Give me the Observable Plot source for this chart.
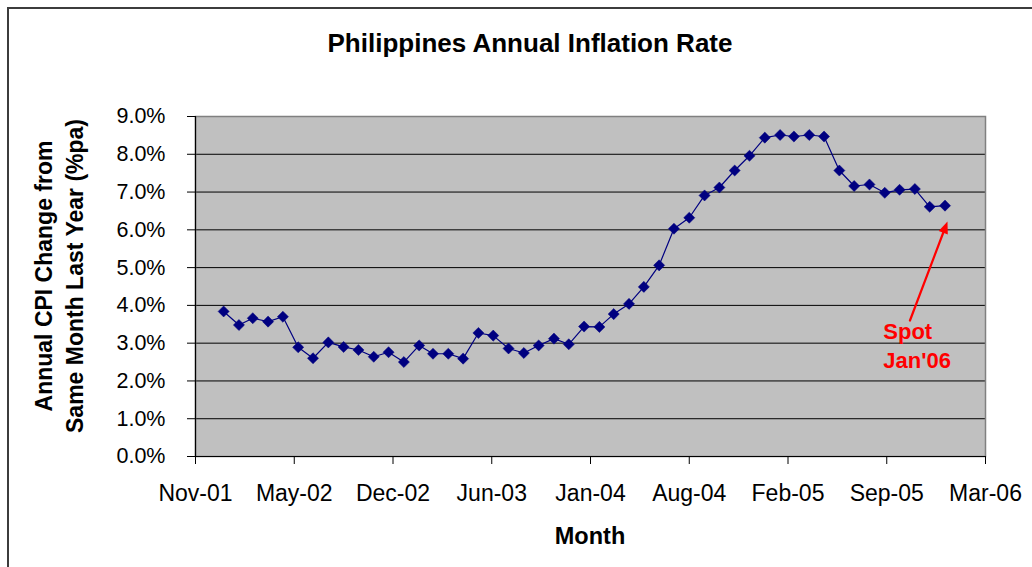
<!DOCTYPE html>
<html>
<head>
<meta charset="utf-8">
<script src="https://cdn.jsdelivr.net/npm/d3@7"></script>
<script src="https://cdn.jsdelivr.net/npm/@observablehq/plot@0.6"></script>
<style>
  html, body { margin: 0; padding: 0; background: #fff; overflow: hidden; }
  #wrap { position: relative; width: 1032px; height: 567px; overflow: hidden; font-family: "Liberation Sans", Arial, sans-serif; }
  #border { position: absolute; left: 7px; top: 7px; width: 1200px; height: 800px; border: 2px solid #3c3c3c; box-sizing: border-box; pointer-events: none; }
  #title { position: absolute; left: 230px; width: 600px; top: 30px; text-align: center; font-size: 26px; line-height: 26px; font-weight: bold; color: #000; }
  #ytitle { position: absolute; left: -150px; top: 245px; width: 420px; height: 62px; text-align: center; font-size: 23px; line-height: 31px; font-weight: bold; transform: rotate(-90deg); transform-origin: 50% 50%; color: #000; white-space: nowrap; }
  #xtitle { position: absolute; left: 490px; width: 200px; top: 525px; text-align: center; font-size: 23.5px; line-height: 23px; font-weight: bold; color: #000; }
  #chart { position: absolute; left: 0; top: 0; }
</style>
</head>
<body>
<div id="wrap">
  <div id="chart"></div>
  <div id="border"></div>
  <div id="title">Philippines Annual Inflation Rate</div>
  <div id="ytitle">Annual CPI Change from<br>Same Month Last Year (%pa)</div>
  <div id="xtitle">Month</div>
</div>
<script>
// ---- data (monthly, % change on same month last year) ----
const firstMonth = "2002-01-01";
const infl2002 = [3.84, 3.48, 3.66, 3.57, 3.70, 2.89, 2.60, 3.02, 2.90, 2.82, 2.64, 2.76];
const infl2003 = [2.50, 2.94, 2.72, 2.72, 2.59, 3.27, 3.20, 2.86, 2.74, 2.94, 3.12, 2.97];
const infl2004 = [3.44, 3.43, 3.77, 4.04, 4.49, 5.06, 6.03, 6.32, 6.91, 7.12, 7.57, 7.96];
const infl2005 = [8.44, 8.51, 8.47, 8.51, 8.47, 7.57, 7.16, 7.20, 6.98, 7.06, 7.08, 6.61];
const infl2006 = [6.64];

// x axis: Excel date axis, min 5-Nov-2001, major unit 200 days
const xAxisStart = "2001-11-05";
const xMajorUnitDays = 200;
const xTickLabels = ["Nov-01", "May-02", "Dec-02", "Jun-03", "Jan-04", "Aug-04", "Feb-05", "Sep-05", "Mar-06"];
const yTicks = [0, 1, 2, 3, 4, 5, 6, 7, 8, 9];

// annotation
const annoLines = ["Spot", "Jan'06"];
const annoTextX = ["2005-08-29", "2005-08-29"];
const annoTextY = [3.29, 2.53];
const arrowFrom = {date: "2005-10-22", value: 3.60};
const arrowTo = {date: "2006-01-06", value: 6.22};

// ---- build ----
const values = [...infl2002, ...infl2003, ...infl2004, ...infl2005, ...infl2006];
const start = new Date(firstMonth);
const data = values.map((v, i) => ({date: d3.utcMonth.offset(start, i), value: v}));

const x0 = new Date(xAxisStart);
const xTicks = xTickLabels.map((_, i) => d3.utcDay.offset(x0, i * xMajorUnitDays));
const x1 = xTicks[xTicks.length - 1];
const labelByTime = new Map(xTicks.map((d, i) => [+d, xTickLabels[i]]));

const annoData = annoLines.map((t, i) => ({text: t, date: new Date(annoTextX[i]), value: annoTextY[i]}));
const arrowData = [{x1: new Date(arrowFrom.date), y1: arrowFrom.value, x2: new Date(arrowTo.date), y2: arrowTo.value}];

const navy = "#000080";
const red = "#FF0000";

// arrowhead symbol: filled triangle with its tip at the origin, pointing up
const headSymbol = {
  draw(context, size) {
    const s = Math.sqrt(size);
    const h = s * 1.35, w = s * 1.1;
    context.moveTo(0, 0);
    context.lineTo(-w / 2, h);
    context.lineTo(w / 2, h);
    context.closePath();
  }
};

function build(headRotate) {
  return Plot.plot({
    width: 1032,
    height: 567,
    marginLeft: 195,
    marginRight: 47,
    marginTop: 116,
    marginBottom: 111,
    style: {fontFamily: '"Liberation Sans", Arial, sans-serif', fontSize: "21px", color: "#000", background: "transparent", overflow: "visible"},
    x: {type: "utc", domain: [x0, x1]},
    y: {domain: [0, 9]},
    marks: [
      Plot.frame({fill: "#C0C0C0", stroke: null}),
      Plot.ruleY(yTicks.slice(1), {stroke: "#000", strokeWidth: 1}),
      Plot.frame({stroke: "#808080", strokeWidth: 1.5, fill: "none"}),
      Plot.ruleX([x0], {stroke: "#000", strokeWidth: 1.2}),
      Plot.ruleY([0], {stroke: "#000", strokeWidth: 1.2}),
      Plot.axisY({ticks: yTicks, tickSize: 8, tickPadding: 22, tickFormat: d => d.toFixed(1) + "%", label: null, fontSize: 21.5, stroke: "#000"}),
      Plot.axisX({ticks: xTicks, tickSize: 8, tickPadding: 20, tickFormat: d => labelByTime.get(+d), label: null, fontSize: 23, stroke: "#000"}),
      Plot.line(data, {x: "date", y: "value", stroke: navy, strokeWidth: 1.2}),
      Plot.dot(data, {x: "date", y: "value", symbol: "diamond2", r: 5, fill: navy, stroke: navy, strokeWidth: 0.5}),
      Plot.arrow(arrowData, {x1: "x1", y1: "y1", x2: "x2", y2: "y2", stroke: red, strokeWidth: 2.2, headLength: 0, insetEnd: 8}),
      Plot.dot(arrowData, {x: "x2", y: "y2", symbol: headSymbol, r: 5, fill: red, stroke: "none", rotate: headRotate}),
      Plot.text(annoData, {x: "date", y: "value", text: "text", textAnchor: "start", fill: red, fontWeight: "bold", fontSize: 22})
    ]
  });
}

// first pass to get the scales, so the arrowhead points along the arrow
const probe = build(0);
const sx = probe.scale("x"), sy = probe.scale("y");
const a = arrowData[0];
const dx = sx.apply(a.x2) - sx.apply(a.x1);
const dy = sy.apply(a.y2) - sy.apply(a.y1);
const angle = Math.atan2(dx, -dy) * 180 / Math.PI;

document.getElementById("chart").appendChild(build(angle));
</script>
</body>
</html>
